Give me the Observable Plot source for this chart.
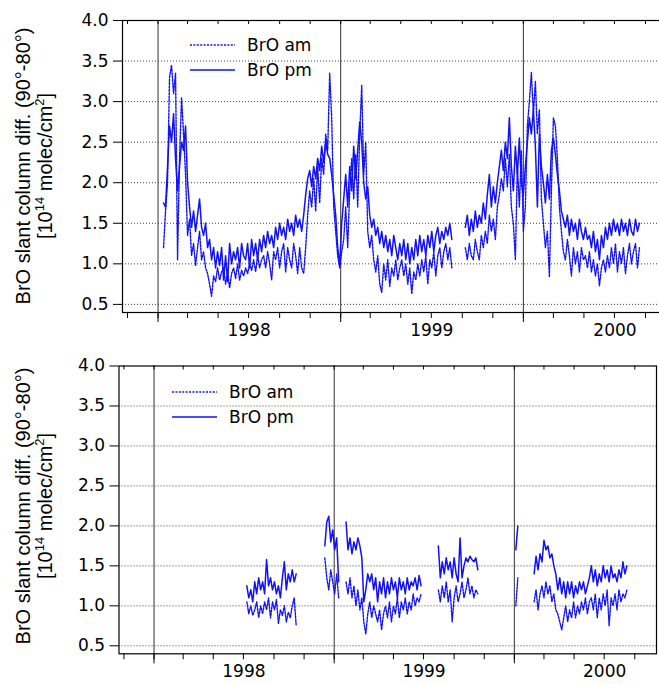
<!DOCTYPE html>
<html><head><meta charset="utf-8">
<script src="https://cdn.jsdelivr.net/npm/d3@7"></script>
<script src="https://cdn.jsdelivr.net/npm/@observablehq/plot@0.6"></script>
<style>
html,body{margin:0;padding:0;background:#fff;overflow:hidden;width:659px;height:684px}
#chart{width:659px;overflow:hidden}
#chart svg{display:block;max-width:none !important}
</style></head><body><div id="chart"></div>
<script>
// ---------- data (samples every 4 days) ----------
const seriesNames = ["BrO am", "BrO pm"];
const yearLabels = ["1998", "1999", "2000"];
const yTickValues = [0.5, 1.0, 1.5, 2.0, 2.5, 3.0, 3.5, 4.0];
const gridLevels = [0.5, 1.0, 1.5, 2.0, 2.5, 3.0, 3.5];
const STEP_DAYS = 4;

// top panel, segment 1 starts 1998-01-12
const topStart1 = "1998-01-12";
const topPm1 = [1.75,1.70,2.20,2.70,2.50,2.85,2.30,1.90,2.20,2.50,
  2.40,2.70,2.00,1.70,1.45,1.65,1.40,1.60,1.80,1.45,
  1.35,1.50,1.20,1.30,1.05,1.20,0.95,1.15,0.98,1.20,
  0.80,1.10,0.78,1.25,1.00,1.15,1.05,1.20,0.95,1.25,
  1.10,1.05,1.25,0.95,1.30,1.10,1.25,1.05,1.30,1.15,
  1.35,1.20,1.40,1.25,1.35,1.20,1.45,1.30,1.50,1.35,
  1.45,1.30,1.55,1.40,1.50,1.35,1.60,1.45,1.55,1.40,
  1.60,1.85,2.05,2.15,1.95,2.20,2.05,2.30,2.15,2.45,
  2.25,2.50,2.35,2.30,2.10,1.85,1.60,1.20,0.98,1.50,
  1.80,2.10,1.70,2.20,1.90,2.45,2.05,2.40,2.75,2.50,
  2.00,1.80,1.95,1.60,1.45,1.55,1.35,1.45,1.25,1.40,
  1.20,1.35,1.15,1.30,1.10,1.35,1.20,1.05,1.25,1.10,
  1.30,1.05,1.25,1.00,1.20,1.05,1.30,1.10,1.35,1.15,
  1.30,1.10,1.35,1.20,1.40,1.15,1.35,1.45,1.25,1.40,1.30,1.45,1.35,1.50,1.30];
const topAm1 = [1.20,1.65,2.00,3.30,3.45,3.10,3.35,1.05,2.30,3.05,
  2.60,2.10,1.35,1.55,1.10,1.25,0.98,1.20,1.40,1.05,
  1.15,0.95,0.88,0.75,0.60,0.85,0.78,0.95,0.80,0.90,
  0.95,0.75,0.90,0.70,0.88,0.95,0.82,1.00,0.80,0.92,
  0.85,0.95,0.88,1.00,0.92,1.05,0.90,1.10,0.95,1.05,
  1.10,0.95,1.15,1.00,0.80,1.15,1.05,1.20,0.95,1.15,
  1.25,0.90,1.20,1.05,0.95,1.25,1.10,0.88,1.20,0.95,
  0.88,1.20,1.60,1.90,1.70,2.05,1.65,2.20,1.75,2.30,
  2.10,2.60,2.40,3.35,2.80,1.70,1.40,1.10,0.95,1.15,
  1.30,1.70,1.20,1.90,2.30,1.80,2.35,1.70,2.60,3.20,
  2.10,2.50,1.40,1.20,1.35,1.05,0.90,1.10,0.75,0.65,
  1.00,0.80,1.05,0.72,0.95,0.85,1.05,0.80,0.95,1.05,
  0.85,1.00,0.75,0.95,0.63,0.90,0.80,1.00,0.85,1.05,
  0.90,1.10,0.75,1.05,0.95,1.15,0.85,1.10,1.20,0.95,1.15,1.25,1.05,1.20,0.95];
// top panel, segment 2 starts 1999-09-07
const topStart2 = "1999-09-07";
const topPm2 = [1.45,1.60,1.35,1.55,1.40,1.65,1.45,1.60,1.50,1.75,
  1.55,1.85,2.10,1.70,1.95,1.75,2.00,2.20,2.40,2.15,
  2.50,2.30,2.80,2.20,1.90,2.45,2.10,2.55,2.00,1.85,
  2.20,2.50,2.80,2.60,2.90,2.45,1.70,2.60,2.20,2.00,
  1.75,2.10,1.80,2.40,2.55,2.35,2.10,1.90,1.65,1.55,
  1.45,1.60,1.35,1.55,1.40,1.50,1.30,1.55,1.40,1.30,
  1.45,1.30,1.35,1.20,1.40,1.15,1.30,1.05,1.35,1.20,
  1.45,1.30,1.50,1.35,1.55,1.40,1.50,1.35,1.55,1.40,
  1.50,1.35,1.55,1.40,1.35,1.55,1.40,1.50];
const topAm2 = [1.20,1.05,1.25,1.10,1.05,1.30,1.15,1.05,1.35,1.20,
  1.40,1.25,1.60,1.40,1.55,1.30,1.70,1.85,2.05,1.90,
  2.30,1.95,2.35,1.70,1.50,1.05,2.20,1.70,2.40,1.40,
  1.70,2.70,3.00,3.36,2.85,3.25,2.60,2.90,1.80,1.50,
  1.20,1.40,0.84,1.90,2.80,2.70,2.30,1.70,1.40,1.15,
  1.05,1.30,1.10,0.85,1.20,1.00,1.15,0.90,1.20,1.05,
  1.10,0.95,1.15,0.90,1.05,0.85,1.00,0.73,0.95,1.05,
  0.90,1.10,0.95,1.20,1.00,1.25,0.90,1.15,1.00,1.20,
  0.88,1.10,1.25,1.00,1.15,1.25,0.95,1.20];

// bottom panel segments
const botStartA = "1998-07-08";
const botPmA = [1.25,1.10,1.20,1.05,1.30,1.15,1.35,1.20,1.30,1.15,1.58,1.25,1.35,1.20,1.30,1.15,1.25,1.10,1.35,1.55,1.20,1.40,1.30,1.45,1.30,1.40];
const botAmA = [1.05,0.90,1.00,0.88,0.95,1.05,0.85,1.00,0.90,1.05,0.95,1.10,0.85,1.05,0.95,1.08,0.78,0.95,0.88,1.00,0.80,0.92,0.85,1.00,1.10,0.75];
const botStartB = "1998-12-13";
const botPmB = [1.75,2.05,2.12,1.80,1.95,1.70,1.85,1.30];
const botAmB = [1.60,1.35,1.20,1.45,1.30,1.15,1.40,1.10];
const botStartC = "1999-01-25";
const botPmC = [2.05,1.70,1.85,1.65,1.80,1.70,1.85,1.75,1.60,1.05,1.20,1.40,1.30,1.40,1.20,1.35,1.05,1.30,1.15,1.35,1.10,1.30,1.15,1.35,1.20,1.30,1.10,1.35,1.20,1.30,1.15,1.35,1.20,1.30,1.25,1.35,1.20,1.38,1.25];
const botAmC = [1.30,1.15,1.35,1.10,1.25,1.00,1.20,0.95,1.10,0.80,0.65,0.90,1.05,0.85,1.00,0.90,0.80,0.95,0.70,0.90,1.00,0.85,1.05,0.80,1.00,0.90,1.10,0.85,1.05,0.95,1.10,0.90,1.05,0.95,1.15,1.00,1.10,1.05,1.15];
const botStartD = "1999-07-31";
const botPmD = [1.75,1.35,1.55,1.40,1.60,1.45,1.55,1.35,1.60,1.40,1.30,1.85,1.35,1.50,1.60,1.55,1.62,1.58,1.55,1.60,1.45];
const botAmD = [1.20,1.05,1.25,1.10,1.30,1.05,1.20,0.80,1.10,1.25,1.05,1.15,1.30,1.10,1.20,1.35,1.15,1.25,1.10,1.20,1.15];
const botStartE = "2000-01-04";
const botPmE = [1.70,2.00];
const botAmE = [1.00,1.35];
const botStartF = "2000-02-10";
const botPmF = [1.40,1.62,1.45,1.65,1.55,1.82,1.70,1.75,1.60,1.65,1.50,1.40,1.20,1.35,1.15,1.30,1.10,1.30,1.15,1.30,1.10,1.25,1.15,1.30,1.20,1.30,1.15,1.25,1.35,1.50,1.30,1.45,1.25,1.40,1.30,1.50,1.35,1.45,1.30,1.50,1.35,1.40,1.30,1.45,1.35,1.55,1.40,1.50];
const botAmF = [1.05,1.20,0.95,1.15,1.25,1.10,1.30,1.15,1.25,1.05,1.15,0.95,0.90,0.80,0.70,0.85,1.00,0.80,0.95,0.85,1.05,0.85,1.00,0.90,1.05,0.95,1.10,0.90,1.05,1.10,0.95,1.15,0.85,1.10,0.95,1.15,1.00,1.20,0.75,1.10,1.00,1.15,0.95,1.20,1.05,1.15,1.10,1.20];

// ---------- build tables ----------
const utc = s => new Date(s + "T00:00:00Z");
function rowsFor(segments) {
  const rows = [];
  segments.forEach((s, k) => {
    const start = utc(s.start);
    [["am", s.am], ["pm", s.pm]].forEach(([series, vals]) => {
      vals.forEach((v, i) => rows.push({date: d3.utcDay.offset(start, i * STEP_DAYS), value: v, series, seg: series + k}));
    });
  });
  return rows;
}
const topRows = rowsFor([
  {start: topStart1, am: topAm1, pm: topPm1},
  {start: topStart2, am: topAm2, pm: topPm2}
]);
const botRows = rowsFor([
  {start: botStartA, am: botAmA, pm: botPmA},
  {start: botStartB, am: botAmB, pm: botPmB},
  {start: botStartC, am: botAmC, pm: botPmC},
  {start: botStartD, am: botAmD, pm: botPmD},
  {start: botStartE, am: botAmE, pm: botPmE},
  {start: botStartF, am: botAmF, pm: botPmF}
]);

const xDomain = [utc("1997-10-22"), utc("2000-10-15")];
const yDomain = [0.4, 4.0];
const yearStarts = yearLabels.map(y => utc(y + "-01-01"));
const yearMids = yearLabels.map(y => utc(y + "-07-02"));
const minorTicks = d3.utcMonth.every(2).range(xDomain[0], xDomain[1]);
const BLUE = "#1010ff";

function panel(cfg) {
  const innerH = cfg.height - cfg.marginTop - cfg.marginBottom;
  const svg = Plot.plot({
    width: cfg.width, height: cfg.height,
    marginLeft: cfg.marginLeft, marginRight: 3, marginTop: cfg.marginTop, marginBottom: cfg.marginBottom,
    style: {fontFamily: "'DejaVu Sans', sans-serif", fontSize: "17px", color: "#000", background: "#fff", overflow: "visible", maxWidth: "none"},
    x: {type: "utc", domain: xDomain},
    y: {domain: yDomain},
    marks: [
      Plot.ruleY(gridLevels, {y: d => d, stroke: "#444", strokeWidth: 1, strokeDasharray: "1,2"}),
      Plot.ruleX(yearStarts, {x: d => d, stroke: "#333", strokeWidth: 1}),
      Plot.line(cfg.rows.filter(d => d.series === "am"), {x: "date", y: "value", z: "seg", stroke: BLUE, strokeWidth: 1.4, strokeDasharray: "2,1.4"}),
      Plot.line(cfg.rows.filter(d => d.series === "pm"), {x: "date", y: "value", z: "seg", stroke: BLUE, strokeWidth: 1.5}),
      Plot.frame({stroke: "#000", strokeWidth: 1.2}),
      Plot.axisY({ticks: yTickValues, tickFormat: d3.format(".1f"), tickSize: 9, tickPadding: 5, label: null, fontSize: 17, fill: "#000"}),
      Plot.axisX({ticks: minorTicks, tickFormat: () => "", tickSize: 6, label: null}),
      Plot.axisX({ticks: yearStarts, tickFormat: () => "", tickSize: 10, label: null}),
      Plot.tickX(minorTicks, {x: d => d, stroke: "#000", insetBottom: innerH - 4}),
      Plot.text(yearMids, {x: d => d, text: (d, i) => yearLabels[i], frameAnchor: "bottom", dy: 23, fontSize: 17, fill: "#000"})
    ]
  });
  svg.style.maxWidth = "none";
  svg.style.width = cfg.width + "px";
  svg.style.height = cfg.height + "px";
  const s = d3.select(svg);
  // y-axis title (two rotated lines)
  const g = s.append("g").attr("font-family", "'Liberation Sans', Arial, sans-serif").attr("font-size", 20).attr("fill", "#000").attr("text-anchor", "middle");
  g.append("text").attr("transform", `translate(30,${cfg.titleY}) rotate(-90)`).text("BrO slant column diff. (90°-80°)");
  const t2 = g.append("text").attr("transform", `translate(52,${cfg.titleY}) rotate(-90)`);
  t2.append("tspan").text("[10");
  t2.append("tspan").attr("dy", -8).attr("font-size", 13).text("14");
  t2.append("tspan").attr("dy", 8).text(" molec/cm");
  t2.append("tspan").attr("dy", -8).attr("font-size", 13).text("2");
  t2.append("tspan").attr("dy", 8).text("]");
  // legend
  const lg = s.append("g").attr("font-family", "'DejaVu Sans', sans-serif").attr("font-size", 17).attr("fill", "#000").attr("text-anchor", "start");
  [0, 1].forEach(i => {
    const y = cfg.legendY + i * 25;
    lg.append("line").attr("x1", cfg.legendX).attr("x2", cfg.legendX + 45).attr("y1", y).attr("y2", y)
      .attr("stroke", BLUE).attr("stroke-width", i ? 1.5 : 1.4).attr("stroke-dasharray", i ? null : "2,1.4");
    lg.append("text").attr("x", cfg.legendX + 57).attr("y", y).attr("dy", "0.35em").attr("text-anchor", "start").text(seriesNames[i]);
  });
  return svg;
}

const root = document.getElementById("chart");
root.appendChild(panel({rows: topRows, width: 670, height: 350, marginLeft: 122, marginTop: 20, marginBottom: 38, titleY: 166, legendX: 190, legendY: 45}));
root.appendChild(panel({rows: botRows, width: 659, height: 334, marginLeft: 118.5, marginTop: 15.5, marginBottom: 30.7, titleY: 156, legendX: 172, legendY: 42}));
</script></body></html>
